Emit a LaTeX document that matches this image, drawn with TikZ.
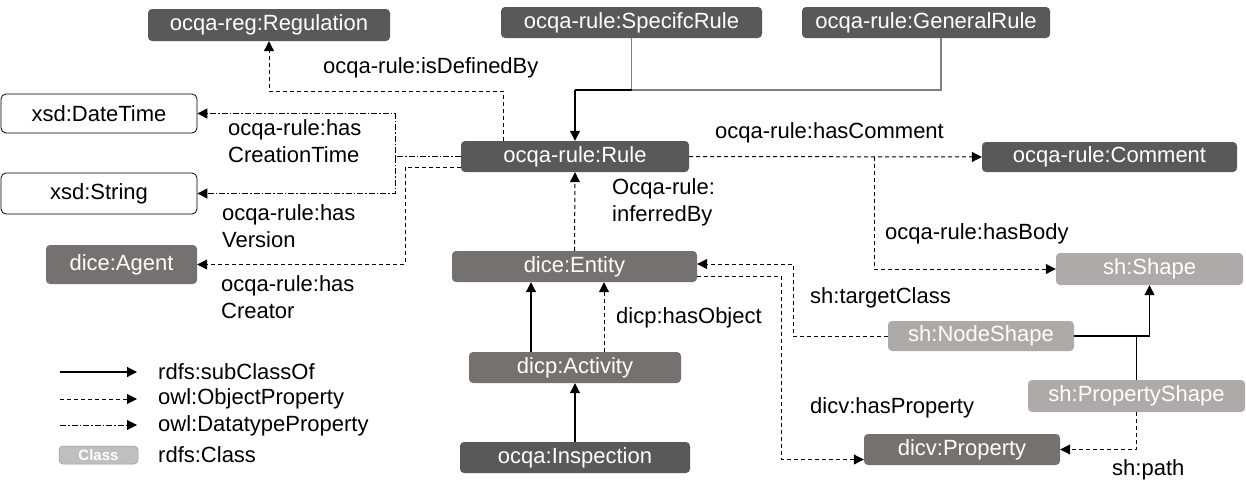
\documentclass[tikz,border=0pt]{standalone}
\usepackage{fontspec}
\setmainfont{Liberation Sans}
\usetikzlibrary{arrows.meta}
\definecolor{dk}{HTML}{595959}
\definecolor{md}{HTML}{767171}
\definecolor{lt}{HTML}{AEAAAA}
\definecolor{lg}{HTML}{BFBFBF}
\definecolor{gl}{HTML}{7F7F7F}
\begin{document}
\begin{tikzpicture}[x=1pt,y=-1pt,
  font=\fontsize{22pt}{27pt}\selectfont,
  cls/.style={rounded corners=4pt, inner sep=0pt, text=white, anchor=center},
  dkc/.style={cls, fill=dk},
  mdc/.style={cls, fill=md},
  ltc/.style={cls, fill=lt},
  dtc/.style={rounded corners=5pt, inner sep=0pt, text=black, fill=white, draw=black, line width=0.8pt},
  lbl/.style={anchor=west, inner sep=0pt, align=left, text=black},
  tip/.style={-{Triangle[length=10pt,width=10pt]}},
  subc/.style={tip, line width=1.1pt, black},
  objp/.style={tip, line width=1pt, dash pattern=on 4pt off 3pt},
  dtp/.style={tip, line width=1pt, dash pattern=on 6pt off 2pt on 1.5pt off 2pt},
]
\useasboundingbox (0,0) rectangle (1246,498);

% class nodes
\node[dkc, minimum width=242pt, minimum height=32pt] (reg) at (269,25) {ocqa-reg:Regulation};
\node[dkc, minimum width=261pt, minimum height=31pt] (spec) at (631.5,22.5) {ocqa-rule:SpecifcRule};
\node[dkc, minimum width=248pt, minimum height=31pt] (gen) at (926,22.5) {ocqa-rule:GeneralRule};
\node[dtc, minimum width=196pt, minimum height=39pt] (dt) at (99,113.5) {xsd:DateTime};
\node[dtc, minimum width=196pt, minimum height=41pt] (str) at (99,193.5) {xsd:String};
\node[mdc, minimum width=151pt, minimum height=39pt] (agent) at (121.5,264.5) {dice:Agent};
\node[dkc, minimum width=228pt, minimum height=31pt] (rule) at (575,156.5) {ocqa-rule:Rule};
\node[dkc, minimum width=255pt, minimum height=30pt] (comment) at (1109.5,157) {ocqa-rule:Comment};
\node[mdc, minimum width=245pt, minimum height=31pt] (entity) at (574.5,266.5) {dice:Entity};
\node[mdc, minimum width=212pt, minimum height=31pt] (activity) at (575,367.5) {dicp:Activity};
\node[dkc, minimum width=230pt, minimum height=31pt] (insp) at (575,457.5) {ocqa:Inspection};
\node[ltc, minimum width=187pt, minimum height=32pt] (shape) at (1149.5,269) {sh:Shape};
\node[ltc, minimum width=186pt, minimum height=30pt] (nodeshape) at (981,336) {sh:NodeShape};
\node[ltc, minimum width=217pt, minimum height=32pt] (propshape) at (1136.5,396) {sh:PropertyShape};
\node[mdc, minimum width=196pt, minimum height=31pt] (property) at (962,449.5) {dicv:Property};

% helper coordinates
\coordinate (c1) at (503,91);
\coordinate (j1) at (575,90);
\coordinate (g1) at (941,90);
\coordinate (d1) at (395,156.5);
\coordinate (a1) at (405,0);
\coordinate (rw2) at ([yshift=-10.5pt]rule.west);
\coordinate (b1) at (874,0);
\coordinate (t1) at (793,264);
\coordinate (ee1) at ([yshift=2.5pt]entity.east);
\coordinate (ee2) at ([yshift=-9.5pt]entity.east);
\coordinate (p1) at (781,0);
\coordinate (pe) at ([yshift=-10pt]property.west);
\coordinate (h1) at (604,0);
\coordinate (s1) at (531,0);

% connectors
\draw[objp] (rule.north -| c1) -- (c1) -| (reg.south);
\draw[line width=1.1pt, gl] (spec.south) -- (spec.south |- j1);
\draw[line width=1.1pt, gl] (gen.south -| g1) -- (g1) -- (spec.south |- j1);
\draw[line width=1.1pt, black] (spec.south |- j1) -- (j1);
\draw[subc] (j1) -- (rule.north);

\draw[dtp] (rule.west) -- (d1) |- (dt.east);
\draw[dtp] (d1) |- (str.east);
\draw[objp] (rw2) -- (rw2 -| a1) |- (agent.east);

\draw[objp] (entity.north) -- (rule.south);
\draw[objp] (rule.east) -- (comment.west);
\draw[objp] (rule.east -| b1) |- (shape.west);
\draw[objp] (nodeshape.west) -| (t1) -- (ee1);
\draw[objp] (ee2) -- (ee2 -| p1) |- (pe);
\draw[objp] (activity.north -| h1) -- (entity.south -| h1);
\draw[subc] (activity.north -| s1) -- (entity.south -| s1);
\draw[subc] (insp.north) -- (activity.south);
\draw[subc] (nodeshape.east) -| (shape.south);
\draw[line width=1.1pt] (propshape.north) -- (propshape.north |- nodeshape.east);
\draw[objp] (propshape.south) |- (property.east);

% labels
\node[lbl] (l1) at (323,68) {ocqa-rule:isDefinedBy};
\node[lbl] (l2) at (228,141.5) {ocqa-rule:has\\CreationTime};
\node[lbl] (l3) at (222,226.5) {ocqa-rule:has\\Version};
\node[lbl] (l4) at (221,297) {ocqa-rule:has\\Creator};
\node[lbl] (l5) at (612,202) {Ocqa-rule:\\inferredBy};
\node[lbl] (l6) at (715,133) {ocqa-rule:hasComment};
\node[lbl] (l7) at (885,234) {ocqa-rule:hasBody};
\node[lbl] (l8) at (810,298) {sh:targetClass};
\node[lbl] (l9) at (616,318) {dicp:hasObject};
\node[lbl] (l10) at (810,408) {dicv:hasProperty};
\node[lbl] (l11) at (1112,470) {sh:path};

% legend
\coordinate (k1a) at (60,372); \coordinate (k1b) at (137,372);
\coordinate (k2a) at (60,399); \coordinate (k2b) at (137,399);
\coordinate (k3a) at (60,425); \coordinate (k3b) at (137,425);
\draw[subc] (k1a) -- (k1b);
\draw[objp] (k2a) -- (k2b);
\draw[dtp] (k3a) -- (k3b);
\node[cls, fill=lg, draw=lg!80!black, line width=0.5pt, minimum width=79pt, minimum height=18pt, font=\fontsize{15pt}{17pt}\selectfont\bfseries] (kc) at (98.5,455) {Class};
\node[lbl] (kl1) at (158,372) {rdfs:subClassOf};
\node[lbl] (kl2) at (158,399) {owl:ObjectProperty};
\node[lbl] (kl3) at (158,426) {owl:DatatypeProperty};
\node[lbl] (kl4) at (158,455) {rdfs:Class};
\end{tikzpicture}
\end{document}
